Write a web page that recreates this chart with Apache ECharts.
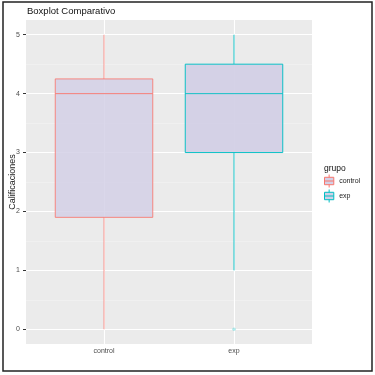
<!DOCTYPE html>
<html>
<head>
<meta charset="utf-8">
<script src="https://cdn.jsdelivr.net/npm/echarts@6/dist/echarts.min.js"></script>
<style>
  html, body { margin: 0; padding: 0; background: #fff; }
  #chart { width: 375px; height: 375px; }
</style>
</head>
<body>
<div id="chart"></div>
<script>
// datos
const categories = ['control', 'exp'];
const whiskerLow = [0, 1];
const q1 = [1.9, 3];
const medians = [4, 4];
const q3 = [4.25, 4.5];
const whiskerHigh = [5, 5];
const outliers = [[], [0]];
const yTicks = [0, 1, 2, 3, 4, 5];
const yMinor = [0.5, 1.5, 2.5, 3.5, 4.5];
const groupColors = ['#F8766D', '#00BFC4'];

const boxFill = '#d3d0e6';
const font = 'Liberation Sans, Arial, sans-serif';

const chart = echarts.init(document.getElementById('chart'));

// caja estilo ggplot (sin remates en los bigotes)
function boxRender(params, api) {
  const x = api.value(0);
  const lo = api.coord([x, api.value(1)]);
  const b1 = api.coord([x, api.value(2)]);
  const md = api.coord([x, api.value(3)]);
  const b3 = api.coord([x, api.value(4)]);
  const hi = api.coord([x, api.value(5)]);
  const half = api.size([0.75, 0])[0] / 2;
  const color = groupColors[params.seriesIndex - 1];
  const isControl = params.seriesIndex === 1;
  const whisker = { stroke: color, lineWidth: isControl ? 1.5 : 1, opacity: isControl ? 0.5 : 0.9 };
  return {
    type: 'group',
    children: [
      { type: 'line', shape: { x1: lo[0], y1: lo[1], x2: b1[0], y2: b1[1] }, style: whisker },
      { type: 'line', shape: { x1: b3[0], y1: b3[1], x2: hi[0], y2: hi[1] }, style: whisker },
      {
        type: 'rect',
        shape: { x: b3[0] - half, y: b3[1], width: half * 2, height: b1[1] - b3[1] },
        style: { fill: boxFill, stroke: color, lineWidth: 1, opacity: isControl ? 0.85 : 0.95 }
      },
      {
        type: 'line',
        shape: { x1: md[0] - half, y1: md[1], x2: md[0] + half, y2: md[1] },
        style: { stroke: color, lineWidth: 1, opacity: 0.9 }
      }
    ]
  };
}

const boxSeries = categories.map(function (name, i) {
  return {
    name: name,
    type: 'custom',
    z: 3,
    itemStyle: { color: boxFill, borderColor: groupColors[i] },
    renderItem: boxRender,
    encode: { x: 0, y: [1, 2, 3, 4, 5] },
    data: [[i + 1, whiskerLow[i], q1[i], medians[i], q3[i], whiskerHigh[i]]]
  };
});

const outlierData = [];
outliers.forEach(function (vals, i) {
  vals.forEach(function (v) { outlierData.push([i + 1, v]); });
});

const gridLines = []
  .concat(yMinor.map(v => ({ yAxis: v, lineStyle: { color: '#f4f4f4', width: 0.6 } })))
  .concat(yTicks.map(v => ({ yAxis: v, lineStyle: { color: '#ffffff', width: 1.1 } })))
  .concat(categories.map((c, i) => ({ xAxis: i + 1, lineStyle: { color: '#ffffff', width: 1.1 } })));

const option = {
  animation: false,
  backgroundColor: '#ffffff',
  textStyle: { fontFamily: font },
  title: [
    {
      text: 'Boxplot Comparativo',
      left: 27,
      top: 6,
      padding: 0,
      textStyle: { fontSize: 9.5, fontWeight: 'normal', color: '#111', fontFamily: font }
    },
    {
      text: 'grupo',
      left: 324,
      top: 164,
      padding: 0,
      textStyle: { fontSize: 8.5, fontWeight: 'normal', color: '#111', fontFamily: font }
    }
  ],
  legend: {
    orient: 'vertical',
    left: 324,
    top: 174,
    padding: 0,
    itemWidth: 12,
    itemHeight: 13,
    itemGap: 1,
    icon: 'path://M1,3H11V11H1Z M1,7H11 M6,0V3 M6,11V14',
    textStyle: { fontSize: 7, color: '#222', fontFamily: font, padding: [0, 0, 0, -1] },
    data: categories.map((c, i) => ({
      name: c,
      itemStyle: { color: boxFill, borderColor: groupColors[i], borderWidth: 1 }
    }))
  },
  grid: {
    left: 26,
    right: 63,
    top: 20,
    bottom: 31,
    outerBoundsMode: 'none',
    containLabel: false,
    show: true,
    backgroundColor: '#EBEBEB',
    borderWidth: 0
  },
  xAxis: {
    type: 'value',
    min: 0.4,
    max: 2.6,
    axisLine: { show: false },
    splitLine: { show: false },
    axisTick: { show: true, length: 3, customValues: [1, 2], lineStyle: { color: '#333' } },
    axisLabel: {
      customValues: [1, 2],
      margin: 4,
      fontSize: 7,
      color: '#4d4d4d',
      formatter: v => categories[Math.round(v) - 1] || ''
    }
  },
  yAxis: {
    type: 'value',
    min: -0.25,
    max: 5.25,
    name: 'Calificaciones',
    nameLocation: 'middle',
    nameGap: 9,
    nameMoveOverlap: false,
    nameTextStyle: { fontSize: 9, color: '#222', fontFamily: font },
    axisLine: { show: false },
    splitLine: { show: false },
    axisTick: { show: true, length: 3, customValues: yTicks, lineStyle: { color: '#333' } },
    axisLabel: { customValues: yTicks, margin: 6, fontSize: 7, color: '#4d4d4d' }
  },
  series: [
    {
      name: 'outliers',
      type: 'scatter',
      z: 1,
      symbolSize: 3.5,
      itemStyle: { color: '#00BFC4', opacity: 0.3 },
      data: outlierData,
      markLine: {
        z: 1,
        silent: true,
        symbol: 'none',
        label: { show: false },
        lineStyle: { type: 'solid' },
        data: gridLines
      }
    }
  ].concat(boxSeries),
  graphic: [
    {
      type: 'rect',
      shape: { x: 3, y: 2, width: 369, height: 369 },
      style: { fill: 'none', stroke: '#222', lineWidth: 1.5 },
      z: 100
    }
  ]
};

chart.setOption(option);
</script>
</body>
</html>
